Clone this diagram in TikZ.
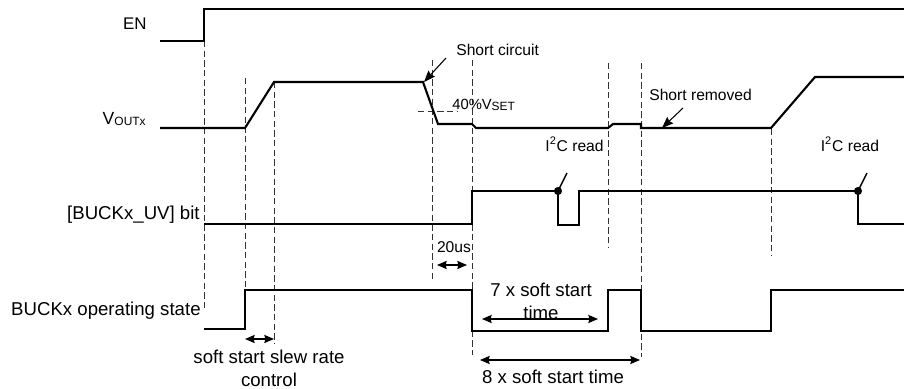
\documentclass[tikz,border=0pt]{standalone}
\usepackage{fontspec}
\setmainfont{Liberation Sans}
\usepackage{tikz}
\usetikzlibrary{arrows.meta,calc,positioning}
\definecolor{td-ink}{HTML}{000000}
\definecolor{td-dash}{HTML}{333333}

\tikzset{
  signal/.style={line width=1.2pt,td-ink,line join=miter},
  guide/.style={dash pattern=on 3.6pt off 1.9pt,line width=0.55pt,td-dash},
  pointer/.style={-{Stealth[length=6.5pt,width=5pt,inset=0.8pt]},line width=0.6pt,td-ink},
  span/.style={<->,line width=0.6pt,td-ink},
  biglab/.style={inner sep=0pt,font=\fontsize{10.6}{13}\selectfont},
  smalllab/.style={inner sep=0pt,font=\fontsize{8.9}{10}\selectfont},
}
\newcommand{\subtxt}[1]{\raisebox{-0.5pt}{\fontsize{6.8}{7}\selectfont #1}}

\begin{document}
\begin{tikzpicture}[>={Stealth[length=5.5pt,width=4.6pt,inset=0.6pt]},x=0.02cm,y=-0.02cm]
  \useasboundingbox (0,0) rectangle (904,389);

  % Signalnavne
  \node[biglab,anchor=east,font=\fontsize{9.6}{12}\selectfont] (en) at (147,24) {EN};
  \node[biglab,anchor=east,font=\fontsize{10}{12}\selectfont] (vout) at (146,119) {V\subtxt{OUTx}};
  \node[biglab,anchor=east] (uv) at (200,215) {[BUCKx\_UV] bit};
  \node[biglab,anchor=east] (state) at (201,311) {BUCKx operating state};

  % Stiplede hjaelpelinjer
  \foreach \x/\ya/\yb in {204/41/310,245/78/290,274/82/343,432/60/280,
                          472/60/355,608/63/247,641/63/357,771/129/255}
    \draw[guide] (\x,\ya) -- (\x,\yb);
  \draw[guide] (418,111) -- (457,111);

  % EN
  \draw[signal] (160,41) -- (204,41) -- (204,9) -- (904,9);

  % VOUTx
  \draw[signal] (160,128) -- (245,128) -- (274,82) -- (423,82) -- (438,124)
    -- (472,124) -- (476,128) -- (608,128) -- (613,124) -- (641,124)
    -- (641,128) -- (771,128) -- (815,77) -- (904,77);

  % [BUCKx_UV] bit
  \draw[signal] (204,224) -- (472,224) -- (472,191) -- (558,191) -- (558,225)
    -- (579,225) -- (579,191) -- (858,191) -- (858,224) -- (904,224);

  % BUCKx operating state
  \draw[signal] (204,329) -- (245,329) -- (245,290) -- (472,290) -- (472,331)
    -- (608,331) -- (608,290) -- (641,290) -- (641,331) -- (771,331)
    -- (771,290) -- (904,290);

  % I2C read markeringer
  \coordinate (rd1) at (558,191);
  \coordinate (rd2) at (858,191);
  \foreach \p in {rd1,rd2} {
    \fill[td-ink] (\p) circle (2.3pt);
    \draw[line width=0.8pt] (\p) -- ++(9,-18);
  }
  \node[smalllab,anchor=east] (i2c1) at (604,144) {I\textsuperscript{2}C read};
  \node[smalllab] (i2c2) at (850,144) {I\textsuperscript{2}C read};

  % Kortslutning
  \coordinate (sctail) at (446,58);
  \coordinate (schead) at (424,82);
  \draw[pointer] (sctail) -- (schead);
  \node[smalllab,anchor=west] (sc) at (456,50) {Short circuit};
  \node[smalllab,anchor=west,font=\fontsize{8.4}{10}\selectfont] (vset) at (452,105) {40\%V\subtxt{SET}};

  \coordinate (srtail) at (683,108);
  \coordinate (srhead) at (662,128);
  \draw[pointer] (srtail) -- (srhead);
  \node[smalllab,anchor=west] (sr) at (649,95) {Short removed};

  % Tidsintervaller
  \coordinate (ua) at (437,265);
  \coordinate (ub) at (467,265);
  \draw[span] (ua) -- (ub);
  \node[smalllab] (us) at (454,247) {20us};

  \coordinate (sa) at (245,339);
  \coordinate (sb) at (274,339);
  \draw[span] (sa) -- (sb);
  \node[biglab,align=center] (slew) at (269,368) {soft start slew rate\\control};

  \coordinate (ta) at (482,319);
  \coordinate (tb) at (598,319);
  \draw[span] (ta) -- (tb);
  \node[biglab,align=center] (seven) at (541,301) {7 x soft start\\time};

  \coordinate (ea) at (480,360);
  \coordinate (eb) at (640,360);
  \draw[span] (ea) -- (eb);
  \node[biglab] (eight) at (553,377) {8 x soft start time};
\end{tikzpicture}
\end{document}
